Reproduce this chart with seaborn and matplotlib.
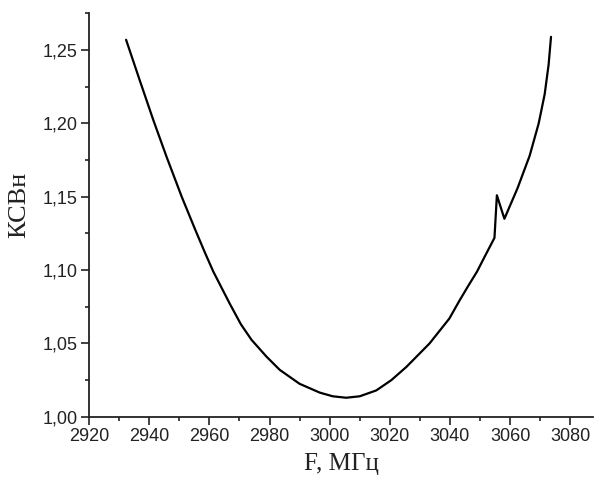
import pandas as pd
import matplotlib.pyplot as plt
import seaborn as sns
from matplotlib.ticker import MultipleLocator, FuncFormatter

# values
freq = [2932.3, 2936.9, 2941.4, 2945.8, 2950.8, 2955.2, 2958.5, 2961.3, 2966.8, 2970.5,
        2974.0, 2979.0, 2983.4, 2990.0, 2996.7, 3001.0, 3005.5, 3010.0, 3015.5, 3020.5,
        3025.5, 3033.2, 3039.8, 3043.1, 3046.0, 3049.0, 3051.5, 3054.8, 3055.6, 3058.1,
        3062.5, 3066.5, 3069.5, 3071.5, 3072.8, 3073.6]
vswr = [1.257, 1.229, 1.202, 1.177, 1.150, 1.128, 1.112, 1.099, 1.077, 1.063,
        1.0525, 1.041, 1.032, 1.0225, 1.0165, 1.014, 1.013, 1.014, 1.018, 1.025,
        1.034, 1.050, 1.067, 1.079, 1.089, 1.099, 1.109, 1.122, 1.151, 1.135,
        1.156, 1.178, 1.200, 1.220, 1.240, 1.259]

df = pd.DataFrame({'F': freq, 'KSV': vswr})

sns.set_theme(style='ticks')
plt.rcParams['font.family'] = ['Liberation Sans', 'DejaVu Sans']

fig = plt.figure(figsize=(5.94, 4.78), dpi=100)
ax = fig.add_axes([0.15, 0.128, 0.848, 0.844])

sns.lineplot(data=df, x='F', y='KSV', sort=False, color='black', lw=1.6, ax=ax)

ax.set_xlim(2920, 3087.5)
ax.set_ylim(1.0, 1.275)
ax.xaxis.set_major_locator(MultipleLocator(20))
ax.xaxis.set_minor_locator(MultipleLocator(10))
ax.yaxis.set_major_locator(MultipleLocator(0.05))
ax.yaxis.set_minor_locator(MultipleLocator(0.025))
ax.yaxis.set_major_formatter(FuncFormatter(lambda v, p: '{:.2f}'.format(v).replace('.', ',')))

ax.tick_params(which='major', direction='out', length=5.5, width=1.2, labelsize=13,
               colors='#222222', pad=2.5)
ax.tick_params(which='minor', direction='out', length=3, width=1.2, colors='#222222')

for s in ['top', 'right']:
    ax.spines[s].set_visible(False)
for s in ['left', 'bottom']:
    ax.spines[s].set_linewidth(1.3)
    ax.spines[s].set_color('#222222')

serif = ['Liberation Serif', 'DejaVu Serif']
ax.set_xlabel('F, МГц', family=serif, fontsize=18, color='#222222', labelpad=6)
ax.set_ylabel('КСВн', family=serif, fontsize=19, color='#222222')
ax.yaxis.set_label_coords(-0.117, 0.525)

fig.savefig('out.png', dpi=100)
